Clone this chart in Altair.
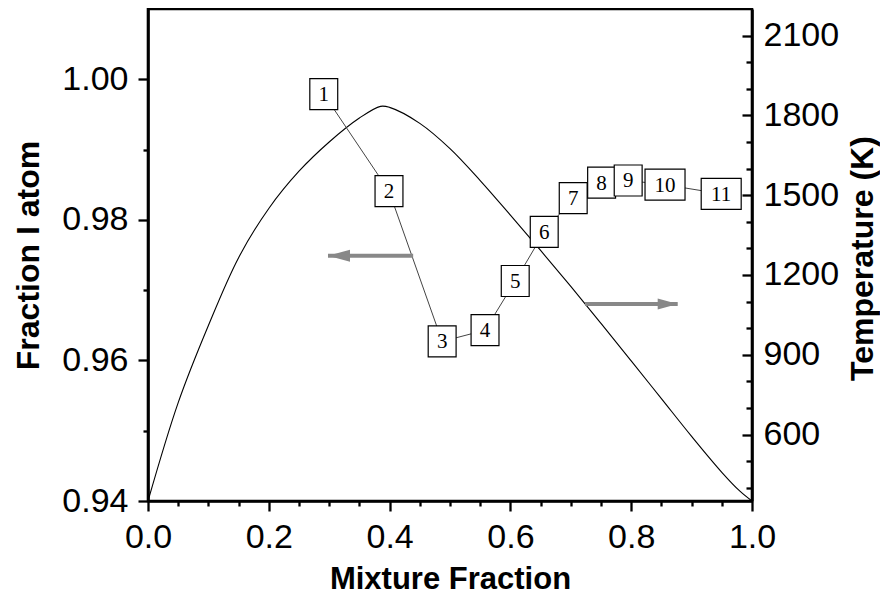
import altair as alt
import pandas as pd

# ---- Temperature profile (right axis) ----
mix_frac = [0.0, 0.05, 0.10, 0.15, 0.20, 0.25, 0.30, 0.35, 0.385, 0.40, 0.45, 0.50,
            0.55, 0.60, 0.65, 0.70, 0.75, 0.80, 0.85, 0.90, 0.95, 0.98, 1.0]
temperature = [350, 720, 1010, 1265, 1450, 1590, 1700, 1790, 1834, 1830, 1770, 1675,
               1555, 1425, 1292, 1157, 1018, 877, 735, 593, 458, 387, 350]

# ---- Fraction I atom numbered points (left axis) ----
point_labels = ["1", "2", "3", "4", "5", "6", "7", "8", "9", "10", "11"]
point_frac = [0.291, 0.399, 0.487, 0.558, 0.608, 0.656, 0.704, 0.751, 0.795, 0.856, 0.949]
point_iatom = [0.9979, 0.9841, 0.9627, 0.9643, 0.9713, 0.9783, 0.9831, 0.9853, 0.9856, 0.9850, 0.9837]

# ---- Arrows ----
arrow_left_x = [0.439, 0.298]
arrow_left_y = 0.9749
arrow_right_x = [0.7235, 0.877]
arrow_right_y = 1091

# ---- Ticks ----
mix_ticks = [0.0, 0.05, 0.1, 0.15, 0.2, 0.25, 0.3, 0.35, 0.4, 0.45, 0.5, 0.55, 0.6,
             0.65, 0.7, 0.75, 0.8, 0.85, 0.9, 0.95, 1.0]
frac_ticks = [0.94, 0.95, 0.96, 0.97, 0.98, 0.99, 1.00]
temp_ticks = [400, 500, 600, 700, 800, 900, 1000, 1100, 1200, 1300, 1400, 1500, 1600,
              1700, 1800, 1900, 2000, 2100]
temp_labels = [600, 900, 1200, 1500, 1800, 2100]

W, H = 604, 492
LABEL_FONT = "Liberation Sans"

curve_df = pd.DataFrame({"x": mix_frac, "T": temperature})
pts_df = pd.DataFrame({
    "x": point_frac, "y": point_iatom, "lab": point_labels,
    "kind": ["s" if len(s) == 1 else "d" for s in point_labels],
    "order": list(range(len(point_labels))),
})
al_df = pd.DataFrame({"x0": [arrow_left_x[0]], "x1": [arrow_left_x[1]], "y": [arrow_left_y]})
ar_df = pd.DataFrame({"x0": [arrow_right_x[0]], "x1": [arrow_right_x[1]], "y": [arrow_right_y]})

x_scale = alt.Scale(domain=[0, 1], nice=False, zero=False)
x_axis = alt.Axis(
    values=mix_ticks, orient="bottom", grid=False,
    labelExpr="round(datum.value*100) % 20 == 0 ? format(datum.value, '.1f') : ''",
    tickSize={"condition": {"test": "round(datum.value*100) % 20 == 0", "value": 10}, "value": 5},
    tickWidth=2.3, tickColor="black", domainColor="black", domainWidth=2.6,
    labelFont=LABEL_FONT, labelFontSize=34, labelColor="black", labelPadding=9,
    labelFlush=False, labelOverlap=False,
    title="Mixture Fraction", titleFont=LABEL_FONT, titleFontSize=31,
    titleFontWeight="bold", titleColor="black", titleX=302, titleY=87,
    titleAlign="center", titleBaseline="alphabetic",
)


def X(field="x"):
    return alt.X(f"{field}:Q", scale=x_scale, axis=x_axis)


# left scale
f_scale = alt.Scale(domain=[0.94, 1.01], nice=False, zero=False)
f_axis = alt.Axis(
    values=frac_ticks, orient="left", grid=False,
    labelExpr="round(datum.value*100) % 2 == 0 ? format(datum.value, '.2f') : ''",
    tickSize={"condition": {"test": "round(datum.value*100) % 2 == 0", "value": 10}, "value": 5},
    tickWidth=2.3, tickColor="black", domainColor="black", domainWidth=2.6,
    labelFont=LABEL_FONT, labelFontSize=34, labelColor="black", labelPadding=10,
    labelBaseline="middle", labelFlush=False, labelOverlap=False,
    title="Fraction I atom", titleFont=LABEL_FONT, titleFontSize=32,
    titleFontWeight="bold", titleColor="black", titleX=-110, titleY=246,
    titleAngle=270, titleAlign="center", titleBaseline="alphabetic",
)
FY = alt.Y("y:Q", scale=f_scale, axis=f_axis)

box_single = "M-0.9,-1H0.9V1H-0.9Z"
box_double = "M-1.29,-1H1.29V1H-1.29Z"

pts_line = alt.Chart(pts_df).mark_line(color="#444444", strokeWidth=1).encode(
    x=X(), y=FY, order="order:Q")
pts_box = alt.Chart(pts_df).mark_point(
    filled=True, fill="white", stroke="black", strokeWidth=1.2, opacity=1, size=961
).encode(
    x=X(), y=FY,
    shape=alt.Shape("kind:N", scale=alt.Scale(domain=["s", "d"], range=[box_single, box_double]),
                    legend=None),
)
pts_text = alt.Chart(pts_df).mark_text(
    font="Liberation Serif", fontSize=21, color="black", align="center", baseline="middle", dy=1
).encode(x=X(), y=FY, text="lab:N")

al_shaft = alt.Chart(al_df).mark_rule(color="#888888", strokeWidth=4).encode(
    x=X("x0"), x2="x1:Q", y=FY)
al_head = alt.Chart(al_df).mark_point(
    shape="M0,0L2,-0.55L2,0.55Z", filled=True, fill="#888888", stroke=None, opacity=1, size=484
).encode(x=X("x1"), y=FY)

left_group = alt.layer(pts_line, al_shaft, al_head, pts_box, pts_text)

# right scale
t_scale = alt.Scale(domain=[350, 2200], nice=False, zero=False)
t_axis_main = alt.Axis(
    values=temp_labels, orient="right", grid=False, ticks=False, tickSize=0, format="d",
    domainColor="black", domainWidth=2.6,
    labelFont=LABEL_FONT, labelFontSize=34, labelColor="black", labelPadding=11,
    labelBaseline="middle", labelFlush=False, labelOverlap=False,
    title="Temperature (K)", titleFont=LABEL_FONT, titleFontSize=32,
    titleFontWeight="bold", titleColor="black", titleX=120, titleY=249,
    titleAngle=270, titleAlign="center", titleBaseline="alphabetic",
)
t_axis_ticks = alt.Axis(
    values=temp_ticks, orient="left", offset=-W, grid=False, labels=False, domain=False,
    tickSize={"condition": {"test": "datum.value % 300 == 0", "value": 10}, "value": 6},
    tickWidth=2.3, tickColor="black", title=None,
)

curve = alt.Chart(curve_df).mark_line(color="black", strokeWidth=1.1, interpolate="catmull-rom").encode(
    x=X(), y=alt.Y("T:Q", scale=t_scale, axis=t_axis_main))
curve_ticks = alt.Chart(curve_df).mark_line(strokeOpacity=0).encode(
    x=X(), y=alt.Y("T:Q", scale=t_scale, axis=t_axis_ticks))
ar_shaft = alt.Chart(ar_df).mark_rule(color="#888888", strokeWidth=4).encode(
    x=X("x0"), x2="x1:Q", y=alt.Y("y:Q", scale=t_scale, axis=None))
ar_head = alt.Chart(ar_df).mark_point(
    shape="M0,0L-2,-0.55L-2,0.55Z", filled=True, fill="#888888", stroke=None, opacity=1, size=400
).encode(x=X("x1"), y=alt.Y("y:Q", scale=t_scale, axis=None))

right_group = alt.layer(curve, curve_ticks, ar_shaft, ar_head).resolve_axis(y="independent")

chart = alt.layer(right_group, left_group).resolve_scale(y="independent").properties(
    width=W, height=H,
    autosize=alt.AutoSizeParams(type="none"),
    padding={"left": 140, "top": 1, "right": 128, "bottom": 94},
    background="white",
).configure_view(stroke="black", strokeWidth=2.6)

chart.save("out.html", embed_options={"renderer": "svg", "actions": False})
